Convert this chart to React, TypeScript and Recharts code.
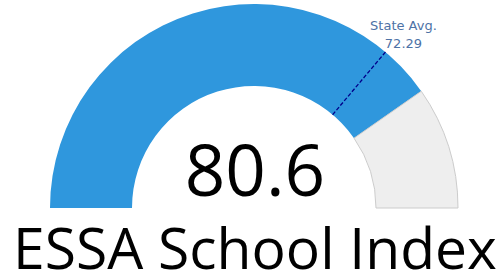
import React from 'react';
import { PieChart, Pie, Cell } from 'recharts';

// gauge values
const gaugeMax = 100;
const schoolScore = 80.6;
const stateAvg = 72.29;

const chartTitle = 'ESSA School Index';
const markerTitle = 'State Avg.';

const scoreData = [
    { name: 'score', value: schoolScore },
    { name: 'rest', value: gaugeMax - schoolScore },
];
const avgData = [
    { name: 'avg', value: stateAvg },
    { name: 'rest', value: gaugeMax - stateAvg },
];

const RAD = Math.PI / 180;
const polar = (cx: number, cy: number, r: number, angle: number) => ({
    x: cx + r * Math.cos(-angle * RAD),
    y: cy + r * Math.sin(-angle * RAD),
});

// draws only the end edge of the state avg sector + its label
const AvgMarker = (props: any) => {
    const { cx, cy, innerRadius, outerRadius, endAngle, payload } = props;
    const name = payload?.name ?? props.name;
    if (name !== 'avg') return null;
    const p1 = polar(cx, cy, innerRadius, endAngle);
    const p2 = polar(cx, cy, outerRadius, endAngle);
    return (
        <g>
            <line x1={p1.x} y1={p1.y} x2={p2.x} y2={p2.y} stroke="#00008b" strokeWidth={1.3} strokeDasharray="4 2" />
            <text x={p2.x + 18} y={p2.y - 22} textAnchor="middle" fontSize={13} fill="#4d72a6" fontFamily="DejaVu Sans">
                {markerTitle}
            </text>
            <text x={p2.x + 18} y={p2.y - 4} textAnchor="middle" fontSize={13} fill="#4d72a6" fontFamily="DejaVu Sans">
                {stateAvg.toFixed(2)}
            </text>
        </g>
    );
};

const App = () => {
    return (
        <div style={{ position: 'absolute', left: 0, top: 0, width: 500, height: 277, background: '#fff' }}>
            <PieChart width={500} height={277} margin={{ top: 0, right: 0, bottom: 0, left: 0 }}>
                <Pie
                    data={scoreData}
                    dataKey="value"
                    cx={254}
                    cy={208}
                    startAngle={180}
                    endAngle={0}
                    innerRadius={122}
                    outerRadius={204}
                    isAnimationActive={false}
                >
                    <Cell fill="#2f97dd" stroke="none" />
                    <Cell fill="#eeeeee" stroke="#cccccc" strokeWidth={1} />
                </Pie>
                <Pie
                    data={avgData}
                    dataKey="value"
                    cx={254}
                    cy={208}
                    startAngle={180}
                    endAngle={0}
                    innerRadius={122}
                    outerRadius={204}
                    fill="none"
                    stroke="none"
                    isAnimationActive={false}
                    label={AvgMarker}
                    labelLine={false}
                />
            </PieChart>
            <svg width={500} height={277} style={{ position: 'absolute', left: 0, top: 0, pointerEvents: 'none' }}>
                <text x={255} y={196} textAnchor="middle" fontSize={71} fill="#000" fontFamily="Open Sans">
                    {schoolScore.toFixed(1)}
                </text>
                <text x={255} y={269} textAnchor="middle" fontSize={57} fill="#000" fontFamily="Open Sans">
                    {chartTitle}
                </text>
            </svg>
        </div>
    );
};

export default App;
